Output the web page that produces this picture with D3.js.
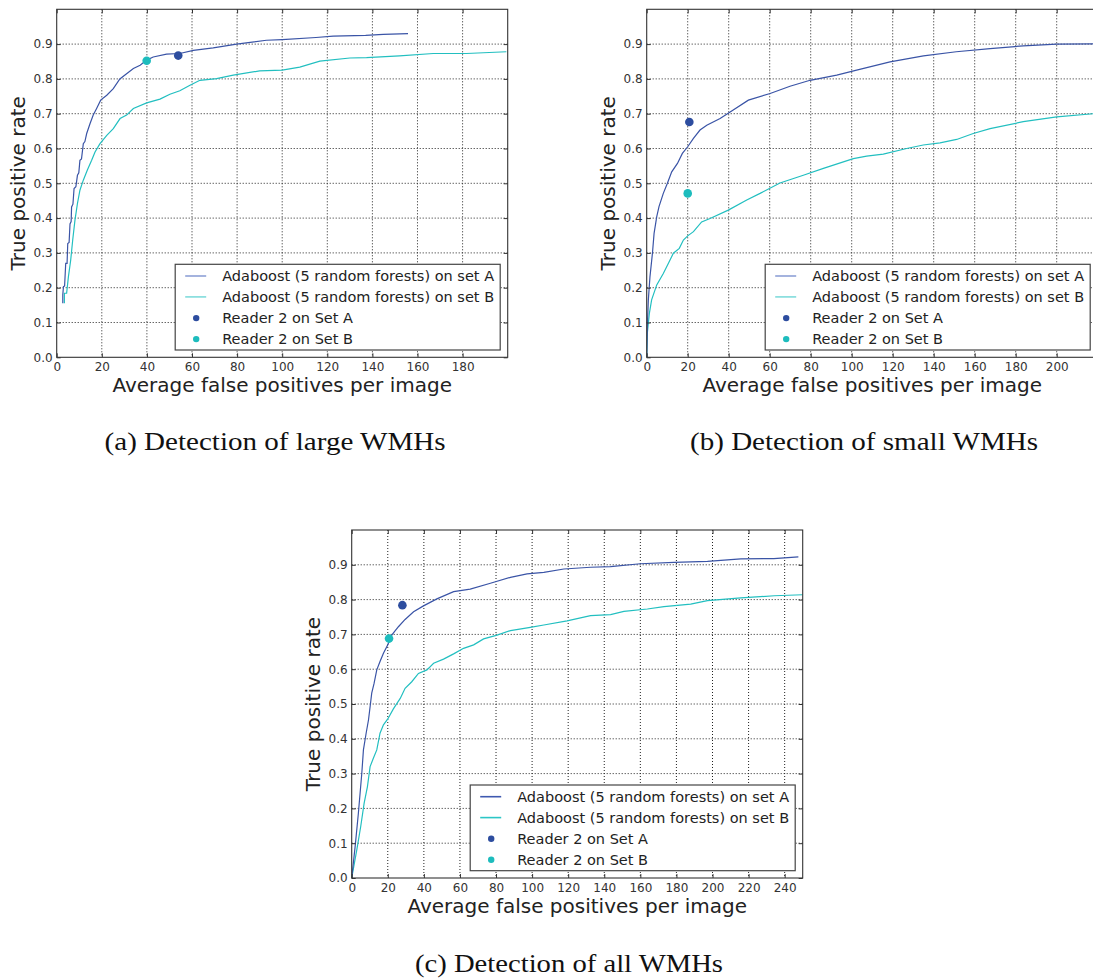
<!DOCTYPE html>
<html>
<head>
<meta charset="utf-8">
<script src="https://cdn.jsdelivr.net/npm/d3@7/dist/d3.min.js"></script>
<style>
  html, body { margin: 0; padding: 0; background: #fff; }
  svg { display: block; }
</style>
</head>
<body>
<svg id="chart" width="1093" height="979"></svg>
<script>
// ---------------- DATA ----------------
const legendLabels = [
  "Adaboost (5 random forests) on set A",
  "Adaboost (5 random forests) on set B",
  "Reader 2 on Set A",
  "Reader 2 on Set B"
];
const captions = ["(a) Detection of large WMHs", "(b) Detection of small WMHs", "(c) Detection of all WMHs"];
const xLabel = "Average false positives per image";
const yLabel = "True positive rate";
const yTicks = [0, 0.1, 0.2, 0.3, 0.4, 0.5, 0.6, 0.7, 0.8, 0.9];
const xTicksLarge = [0, 20, 40, 60, 80, 100, 120, 140, 160, 180];
const xTicksSmall = [0, 20, 40, 60, 80, 100, 120, 140, 160, 180, 200];
const xTicksAll = [0, 20, 40, 60, 80, 100, 120, 140, 160, 180, 200, 220, 240];

// (a) large WMHs
const largeSetA = [[2.7,0.155],[2.7,0.18],[3.0,0.203],[3.5,0.205],[4.0,0.27],[4.6,0.27],[4.9,0.327],[5.5,0.33],[5.9,0.383],[6.4,0.39],[6.6,0.432],[7.2,0.44],[7.7,0.485],[8.5,0.49],[9.2,0.523],[9.8,0.53],[10.3,0.566],[11.0,0.57],[11.8,0.614],[12.5,0.62],[13.3,0.643],[14.8,0.672],[16.2,0.696],[17.7,0.715],[19.5,0.739],[22.2,0.753],[25.1,0.772],[28,0.8],[31,0.815],[34,0.83],[37,0.839],[39.9,0.854],[42.8,0.863],[48.7,0.871],[54.6,0.873],[60.6,0.882],[69.4,0.889],[79.8,0.9],[93,0.911],[100,0.913],[115,0.919],[122.6,0.923],[137,0.925],[144.8,0.928],[155.8,0.93]];
const largeSetB = [[3.4,0.155],[3.4,0.184],[4.4,0.184],[5.2,0.232],[6.2,0.279],[7.1,0.337],[8.1,0.394],[9.2,0.442],[10.3,0.48],[11.8,0.509],[13.6,0.538],[15.5,0.566],[17,0.59],[19.2,0.614],[22.2,0.638],[25.1,0.657],[28.1,0.686],[31,0.696],[34,0.715],[39.9,0.731],[45.8,0.742],[50.2,0.756],[54.6,0.766],[59.1,0.782],[63.5,0.796],[70.9,0.801],[78.3,0.811],[90,0.823],[100,0.825],[107.8,0.834],[116.7,0.851],[130,0.86],[137.4,0.861],[152,0.866],[167,0.873],[181.7,0.873],[199.4,0.878]];
const largeReaderA = [53.9, 0.867];
const largeReaderB = [39.9, 0.852];

// (b) small WMHs
const smallSetA = [[0,0],[0.3,0.088],[0.8,0.165],[1.6,0.232],[2.8,0.299],[3.6,0.356],[4.9,0.404],[6,0.433],[8.1,0.471],[10.1,0.5],[12.2,0.533],[15,0.557],[17.4,0.586],[20,0.605],[22.8,0.629],[26,0.653],[29.3,0.667],[35.8,0.686],[40.7,0.705],[49.6,0.739],[60.2,0.758],[69.9,0.779],[79.7,0.796],[92.7,0.811],[102.4,0.825],[118.7,0.849],[135,0.866],[151,0.878],[167.5,0.887],[183.7,0.895],[200,0.9],[220,0.901]];
const smallSetB = [[0,0],[0.3,0.069],[1.3,0.126],[2.4,0.165],[4.9,0.208],[8.1,0.241],[10.6,0.27],[13,0.299],[15.9,0.313],[17.9,0.337],[20,0.349],[22.8,0.361],[26.8,0.389],[30.9,0.399],[39.8,0.423],[48.8,0.452],[55.3,0.471],[65,0.501],[76.4,0.523],[86.2,0.543],[100.8,0.571],[107.3,0.578],[115.4,0.584],[126.8,0.6],[134.9,0.61],[143.1,0.616],[151.2,0.626],[159.3,0.643],[167.5,0.657],[183.7,0.677],[200,0.691],[220,0.701]];
const smallReaderA = [20.8, 0.676];
const smallReaderB = [20.0, 0.471];

// (c) all WMHs
const allSetA = [[0,0],[1.9,0.09],[3.7,0.186],[5.6,0.301],[6.5,0.368],[8,0.416],[9.3,0.454],[10.2,0.492],[11.1,0.531],[12.4,0.559],[13.9,0.598],[15.7,0.622],[17.6,0.646],[20,0.67],[22.2,0.698],[25.9,0.722],[29.6,0.743],[34.3,0.765],[39.8,0.782],[47.2,0.802],[56.5,0.823],[65.7,0.83],[76.9,0.847],[88,0.864],[97.2,0.874],[106.5,0.878],[117.6,0.888],[132.4,0.893],[143.5,0.895],[160,0.903],[178.7,0.907],[197.2,0.91],[215.7,0.917],[234,0.918],[247.6,0.923]];
const allSetB = [[0,0],[2.8,0.08],[5,0.148],[6.9,0.215],[8.7,0.262],[10.2,0.32],[12,0.344],[13.9,0.368],[15.7,0.416],[17.6,0.44],[20,0.457],[23.1,0.486],[26.9,0.516],[29.6,0.545],[33.3,0.564],[37,0.588],[41.7,0.598],[45.4,0.617],[50.9,0.629],[56.5,0.644],[62,0.66],[67.6,0.67],[73.1,0.687],[80.6,0.698],[88,0.711],[99,0.72],[106.5,0.727],[119.4,0.739],[132.4,0.754],[143.5,0.757],[150.9,0.766],[163.9,0.773],[173.1,0.78],[187.9,0.787],[197.2,0.797],[215.7,0.805],[234.3,0.811],[250,0.814]];
const allReaderA = [28.1, 0.784];
const allReaderB = [20.7, 0.688];

// ---------------- STYLE / LAYOUT ----------------
const colA = "#3a54a6", colB = "#22bfc0";
const dotA = "#2d4d9f", dotB = "#1dbcbd";

const panels = [
  { left: 56.7, top: 9.3, w: 451, h: 348, xMax: 200, xTicks: xTicksLarge,
    A: largeSetA, B: largeSetB, rA: largeReaderA, rB: largeReaderB,
    legA: "#8ea0d6", legB: "#80dcdc",
    cap: captions[0], capX: 104.6, capW: 341, capY: 450 },
  { left: 646.7, top: 9.3, w: 451, h: 348, xMax: 220, xTicks: xTicksSmall,
    A: smallSetA, B: smallSetB, rA: smallReaderA, rB: smallReaderB,
    legA: "#8ea0d6", legB: "#80dcdc",
    cap: captions[1], capX: 690, capW: 348, capY: 450 },
  { left: 351.7, top: 530, w: 451, h: 348, xMax: 250, xTicks: xTicksAll,
    A: allSetA, B: allSetB, rA: allReaderA, rB: allReaderB,
    legA: "#3f59b0", legB: "#2cc6c6",
    cap: captions[2], capX: 415, capW: 308, capY: 972 }
];

const svg = d3.select("#chart");
const sans = "'DejaVu Sans', sans-serif";

panels.forEach(p => {
  const g = svg.append("g").attr("transform", `translate(${p.left},${p.top})`);
  const x = d3.scaleLinear().domain([0, p.xMax]).range([0, p.w]);
  const y = d3.scaleLinear().domain([0, 1]).range([p.h, 0]);

  // grid
  g.append("g").selectAll("line").data(p.xTicks.filter(t => t > 0)).join("line")
    .attr("x1", d => x(d)).attr("x2", d => x(d)).attr("y1", 0).attr("y2", p.h)
    .attr("stroke", "#222").attr("stroke-width", 1).attr("stroke-dasharray", "1,2");
  g.append("g").selectAll("line").data(yTicks.filter(t => t > 0)).join("line")
    .attr("y1", d => y(d)).attr("y2", d => y(d)).attr("x1", 0).attr("x2", p.w)
    .attr("stroke", "#222").attr("stroke-width", 1).attr("stroke-dasharray", "1,2");

  // clip
  const clipId = "clip" + Math.round(p.left);
  svg.append("clipPath").attr("id", clipId).append("rect")
    .attr("x", 0).attr("y", 0).attr("width", p.w).attr("height", p.h);
  const plot = g.append("g").attr("clip-path", `url(#${clipId})`);

  const line = d3.line().x(d => x(d[0])).y(d => y(d[1]));
  plot.append("path").datum(p.B).attr("d", line).attr("fill", "none")
    .attr("stroke", colB).attr("stroke-width", 1.2);
  plot.append("path").datum(p.A).attr("d", line).attr("fill", "none")
    .attr("stroke", colA).attr("stroke-width", 1.2);

  plot.append("circle").attr("cx", x(p.rA[0])).attr("cy", y(p.rA[1])).attr("r", 4.3).attr("fill", dotA);
  plot.append("circle").attr("cx", x(p.rB[0])).attr("cy", y(p.rB[1])).attr("r", 4.3).attr("fill", dotB);

  // axes with inward ticks on all sides
  const axB = d3.axisBottom(x).tickValues(p.xTicks).tickSize(-4).tickPadding(5)
    .tickFormat(d3.format("d"));
  const axT = d3.axisTop(x).tickValues(p.xTicks).tickSize(-4).tickFormat("");
  const axL = d3.axisLeft(y).tickValues(yTicks).tickSize(-4).tickPadding(4)
    .tickFormat(d3.format(".1f"));
  const axR = d3.axisRight(y).tickValues(yTicks).tickSize(-4).tickFormat("");

  const gb = g.append("g").attr("transform", `translate(0,${p.h})`).call(axB);
  const gt = g.append("g").call(axT);
  const gl = g.append("g").call(axL);
  const gr = g.append("g").attr("transform", `translate(${p.w},0)`).call(axR);
  [gb, gt, gl, gr].forEach(a => {
    a.select(".domain").remove();
    a.selectAll(".tick line").attr("stroke", "#333").attr("stroke-width", 1);
    a.selectAll("text").attr("font-family", sans).attr("font-size", 12).attr("fill", "#333");
  });

  // legend
  const lw = 325, lh = 85.7;
  const lx = p.w - 7.5 - lw, ly = p.h - 7.3 - lh;
  const lg = g.append("g").attr("transform", `translate(${lx},${ly})`);
  lg.append("rect").attr("width", lw).attr("height", lh).attr("fill", "#fff")
    .attr("stroke", "#444").attr("stroke-width", 1.2);
  const rowY = [11.7, 32.6, 53.8, 74.8];
  const handles = [p.legA, p.legB];
  legendLabels.forEach((lab, i) => {
    if (i < 2) {
      lg.append("line").attr("x1", 10).attr("x2", 31).attr("y1", rowY[i]).attr("y2", rowY[i])
        .attr("stroke", handles[i]).attr("stroke-width", 1.6);
    } else {
      lg.append("circle").attr("cx", 21).attr("cy", rowY[i]).attr("r", 3.2)
        .attr("fill", i === 2 ? dotA : dotB);
    }
    lg.append("text").attr("x", 47).attr("y", rowY[i] + 5.2)
      .attr("font-family", sans).attr("font-size", 14.5).attr("fill", "#222").text(lab);
  });

  // frame
  g.append("rect").attr("width", p.w).attr("height", p.h).attr("fill", "none")
    .attr("stroke", "#333").attr("stroke-width", 1.1);

  // axis titles
  g.append("text").attr("x", p.w / 2).attr("y", p.h + 35)
    .attr("text-anchor", "middle").attr("font-family", sans).attr("font-size", 20)
    .attr("fill", "#222").text(xLabel);
  g.append("text").attr("transform", `translate(-32,${p.h / 2}) rotate(-90)`)
    .attr("text-anchor", "middle").attr("font-family", sans).attr("font-size", 20)
    .attr("fill", "#222").text(yLabel);

  // caption
  svg.append("text").attr("x", p.capX).attr("y", p.capY)
    .attr("font-family", "'Liberation Serif', serif").attr("font-size", 25)
    .attr("textLength", p.capW).attr("lengthAdjust", "spacingAndGlyphs")
    .attr("fill", "#111").text(p.cap);
});
</script>
</body>
</html>
